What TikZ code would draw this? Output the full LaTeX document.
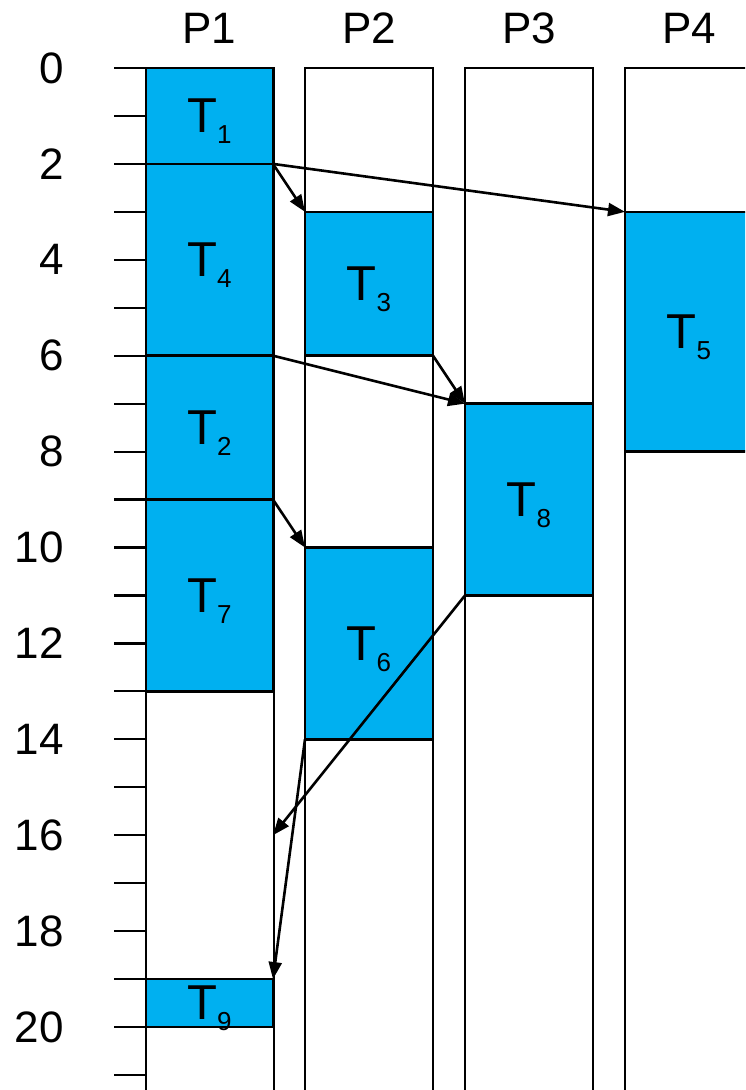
\documentclass[tikz,border=0pt]{standalone}
\usepackage{fontspec}
\setmainfont{Liberation Sans}
\usetikzlibrary{arrows.meta}
\definecolor{taskblue}{HTML}{00B0F0}
\newcommand{\tsub}[2]{#1\raisebox{-11pt}{\fontsize{26}{26}\selectfont #2}}
\begin{document}
\begin{tikzpicture}[x=1pt,y=-47.95pt,
  col/.style={draw=black, line width=2.2pt},
  tickline/.style={draw=black, line width=2.2pt},
  task/.style={draw=black, fill=taskblue, line width=2.6pt, minimum width=127pt,
    anchor=north west, inner sep=0pt, outer sep=0pt, text depth=0pt,
    font=\fontsize{49}{49}\selectfont},
  dep/.style={draw=black, line width=2.6pt, -{Triangle[length=17pt,width=13pt]}},
  head/.style={font=\fontsize{44}{44}\selectfont, inner sep=0pt},
  num/.style={font=\fontsize{44}{44}\selectfont, inner sep=0pt, anchor=east}
]
\useasboundingbox (0,-1.418) rectangle (745,21.314);
\clip (0,-1.418) rectangle (745,21.314);
% processor columns
\foreach \xl in {146,305,465,625}{
  \draw[col] (\xl,22) -- (\xl,0) -- ({\xl+128},0) -- ({\xl+128},22);
}
% ticks
\foreach \t in {0,...,21}{
  \draw[tickline] (114,\t) -- (146,\t);
}
% numbers
\foreach \t in {0,2,...,20}{
  \node[num] (n\t) at (64,\t) {\t};
}
% headers
\node[head] (hP1) at (209.5,-0.834) {P1};
\node[head] (hP2) at (369,-0.834) {P2};
\node[head] (hP3) at (529,-0.834) {P3};
\node[head] (hP4) at (689,-0.834) {P4};
% tasks
\node[task, minimum height=2*47.95pt] (T1) at (146,0) {\tsub{T}{1}};
\node[task, minimum height=4*47.95pt] (T4) at (146,2) {\tsub{T}{4}};
\node[task, minimum height=3*47.95pt] (T2) at (146,6) {\tsub{T}{2}};
\node[task, minimum height=4*47.95pt] (T7) at (146,9) {\tsub{T}{7}};
\node[task, minimum height=1*47.95pt] (T9) at (146,19) {\tsub{T}{9}};
\node[task, minimum height=3*47.95pt, minimum width=128pt] (T3) at (305,3) {\tsub{T}{3}};
\node[task, minimum height=4*47.95pt, minimum width=128pt] (T6) at (305,10) {\tsub{T}{6}};
\node[task, minimum height=4*47.95pt, minimum width=128pt] (T8) at (465,7) {\tsub{T}{8}};
\node[task, minimum height=5*47.95pt, minimum width=128pt] (T5) at (625,3) {\tsub{T}{5}};
\coordinate (p1t16) at (273,16);
% dependencies
\draw[dep] (T1.south east) -- (T3.north west);
\draw[dep] (T1.south east) -- (T5.north west);
\draw[dep] (T4.south east) -- (T8.north west);
\draw[dep] (T3.south east) -- (T8.north west);
\draw[dep] (T2.south east) -- (T6.north west);
\draw[dep] (T8.south west) -- (p1t16);
\draw[dep] (T6.south west) -- (T9.north east);
\end{tikzpicture}
\end{document}
